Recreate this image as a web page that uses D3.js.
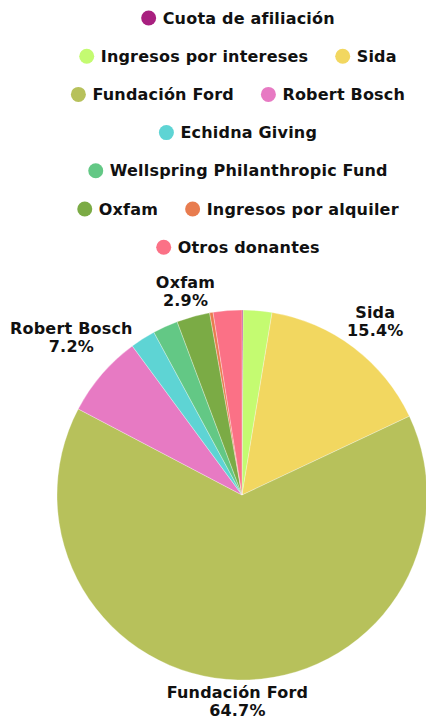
<!DOCTYPE html>
<html>
<head>
<meta charset="utf-8">
<script src="https://cdn.jsdelivr.net/npm/d3@7/dist/d3.min.js"></script>
<style>
  html, body { margin: 0; padding: 0; background: #fff; }
  svg { display: block; }
  text { font-family: "DejaVu Sans", Lato, sans-serif; font-weight: 700; fill: #111; }
</style>
</head>
<body>
<svg id="chart" width="426" height="722"></svg>
<script>
const categories = ["Cuota de afiliación", "Ingresos por intereses", "Sida", "Fundación Ford", "Robert Bosch", "Echidna Giving", "Wellspring Philanthropic Fund", "Oxfam", "Ingresos por alquiler", "Otros donantes"];
const values = [0.1, 2.5, 15.4, 64.7, 7.2, 2.2, 2.2, 2.9, 0.3, 2.5];
const colors = ["#a8207f", "#c4fb71", "#f2d760", "#b7c15b", "#e77ac3", "#5ed4d4", "#63c885", "#7bab45", "#e87c4f", "#fb7186"];
const labeledCategories = ["Sida", "Fundación Ford", "Robert Bosch", "Oxfam"];

const W = 426, H = 722;
const svg = d3.select("#chart");
const fontSize = 16, letterSpacing = 0.2;

// ---- Legend (flow layout, centered rows) ----
const legendCenterX = 238, legendTop = 18, rowGap = 38.2, maxRowWidth = 372;
const markerR = 7.5, markerToText = 14, itemGap = 27;
const legend = svg.append("g");
const items = categories.map((c, i) => {
  const g = legend.append("g");
  g.append("circle").attr("r", markerR).attr("fill", colors[i]);
  const t = g.append("text").attr("x", markerToText).attr("dy", "0.35em")
    .style("font-size", fontSize + "px").style("letter-spacing", letterSpacing + "px").text(c);
  const w = markerR + markerToText + t.node().getComputedTextLength();
  return { g, w };
});
const rows = [];
let cur = [], curW = 0;
items.forEach(it => {
  const add = cur.length ? itemGap + it.w : it.w;
  if (cur.length && curW + add > maxRowWidth) { rows.push({ items: cur, w: curW }); cur = [it]; curW = it.w; }
  else { cur.push(it); curW += add; }
});
if (cur.length) rows.push({ items: cur, w: curW });
rows.forEach((row, ri) => {
  let x = legendCenterX - row.w / 2;
  const y = legendTop + ri * rowGap;
  row.items.forEach(it => {
    it.g.attr("transform", `translate(${x + markerR},${y})`);
    x += it.w + itemGap;
  });
});

// ---- Pie ----
const cx = 242, cy = 495, R = 185;
const data = categories.map((c, i) => ({ name: c, value: values[i], color: colors[i] }));
const pie = d3.pie().sort(null).value(d => d.value).startAngle(0).endAngle(2 * Math.PI);
const arc = d3.arc().innerRadius(0).outerRadius(R);
const arcs = pie(data);
const pg = svg.append("g").attr("transform", `translate(${cx},${cy})`);
pg.selectAll("path").data(arcs).join("path")
  .attr("d", arc).attr("fill", d => d.data.color)
  .attr("stroke", "#fff").attr("stroke-width", 0.5).attr("stroke-opacity", 0.6);

// ---- Labels ----
const total = d3.sum(values);
const labelRadius = 210, margin = 4, lineH = 18, edgePad = 10, yNudge = 3;
arcs.filter(a => labeledCategories.includes(a.data.name)).forEach(a => {
  const mid = (a.startAngle + a.endAngle) / 2;
  const dx = Math.sin(mid), dy = -Math.cos(mid);
  const t = pg.append("text").attr("text-anchor", "middle")
    .style("font-size", fontSize + "px").style("letter-spacing", letterSpacing + "px");
  t.append("tspan").attr("x", 0).attr("dy", 0).text(a.data.name);
  t.append("tspan").attr("x", 0).attr("dy", lineH).text(d3.format(".1f")(a.data.value / total * 100) + "%");
  const bb = t.node().getBBox();
  const hw = bb.width / 2, hh = bb.height / 2;
  const offY = bb.y + hh;
  let rr = labelRadius;
  const clear = r => {
    const x = r * dx, y = r * dy;
    const px = Math.max(x - hw, Math.min(0, x + hw));
    const py = Math.max(y - hh, Math.min(0, y + hh));
    return Math.hypot(px, py) >= R + margin;
  };
  while (!clear(rr) && rr < 400) rr += 1;
  let tx = rr * dx, ty = rr * dy - offY + yNudge;
  tx = Math.max(-cx + hw + edgePad, Math.min(W - cx - hw - edgePad, tx));
  // keep the whole text block inside the canvas vertically
  const maxTy = (H - cy) - (bb.y + bb.height) - 2;
  ty = Math.min(maxTy, ty);
  t.attr("transform", `translate(${tx},${ty})`);
});
</script>
</body>
</html>
